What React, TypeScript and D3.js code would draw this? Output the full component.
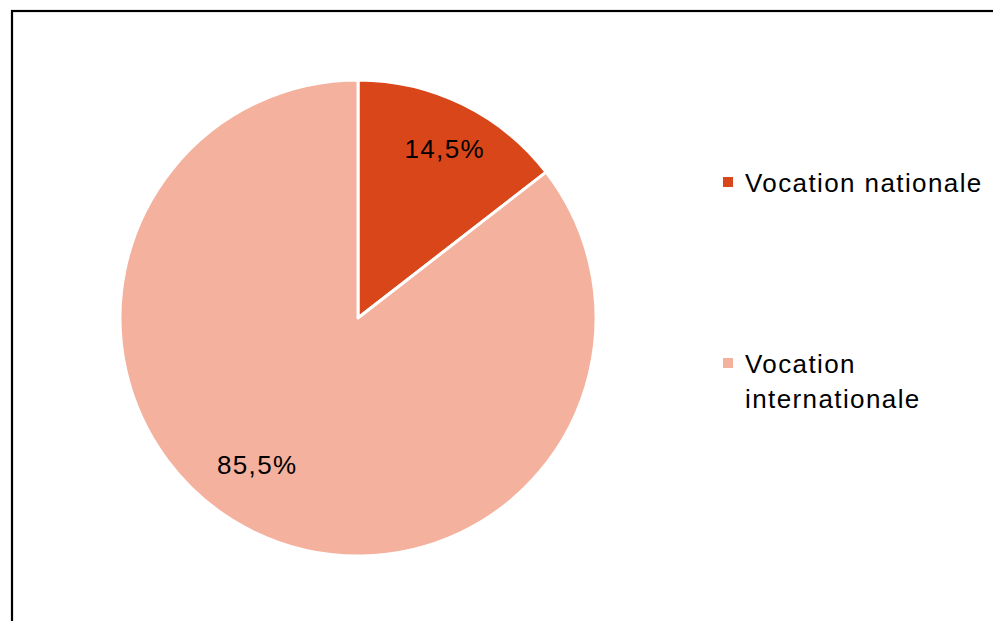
import React from "react";
import * as d3 from "d3";

const categories = ["Vocation nationale", "Vocation internationale"];
const values = [14.5, 85.5];
const labels = ["14,5%", "85,5%"];
const legendLines = [["Vocation nationale"], ["Vocation", "internationale"]];
const colors = ["#D9461A", "#F4B19E"];

export default function App() {
  const W = 993;
  const H = 621;
  const cx = 358;
  const cy = 318;
  const r = 238;
  const pie = d3.pie<number>().sort(null).value((d) => d);
  const arcs = pie(values);
  const arc = d3.arc<d3.PieArcDatum<number>>().innerRadius(0).outerRadius(r);
  const labelArc = d3
    .arc<d3.PieArcDatum<number>>()
    .innerRadius(r * 0.8)
    .outerRadius(r * 0.8);
  const labelShift = [
    [3, 2],
    [-17, -24],
  ];
  const font = "'Liberation Sans', Arial, sans-serif";
  const ly = d3.scaleLinear().domain([0, 1]).range([192, 373]);
  return (
    <svg
      width={W}
      height={H}
      style={{ position: "absolute", left: 0, top: 0, background: "#fff" }}
    >
      <rect x={0} y={0} width={W} height={H} fill="#fff" />
      <rect
        x={12}
        y={11}
        width={1100}
        height={800}
        fill="none"
        stroke="#000"
        strokeWidth={2.2}
      />
      <g transform={`translate(${cx},${cy})`}>
        {arcs.map((a, i) => (
          <path
            key={categories[i]}
            d={arc(a) || ""}
            fill={colors[i]}
            stroke="#fff"
            strokeWidth={3}
            strokeLinejoin="round"
          />
        ))}
        {arcs.map((a, i) => {
          const [x, y] = labelArc.centroid(a);
          return (
            <text
              key={"l" + i}
              x={x + labelShift[i][0]}
              y={y + labelShift[i][1]}
              textAnchor="middle"
              dominantBaseline="central"
              fontFamily={font}
              fontSize={26}
              letterSpacing={1.4}
              fill="#000"
            >
              {labels[i]}
            </text>
          );
        })}
      </g>
      {categories.map((c, i) => (
        <g key={c}>
          <rect
            x={723}
            y={ly(i) - 15}
            width={10}
            height={10}
            fill={colors[i]}
          />
          {legendLines[i].map((t, j) => (
            <text
              key={t}
              x={745}
              y={ly(i) + j * 35}
              fontFamily={font}
              fontSize={26}
              letterSpacing={1.4}
              fill="#000"
            >
              {t}
            </text>
          ))}
        </g>
      ))}
    </svg>
  );
}
